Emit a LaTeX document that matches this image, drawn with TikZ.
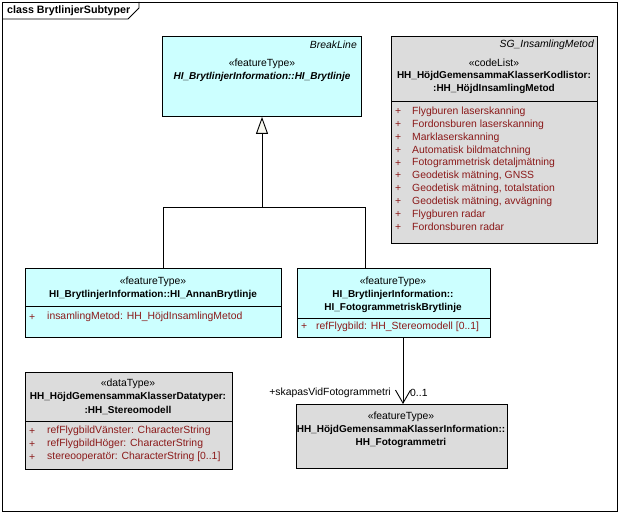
\documentclass[tikz,border=0pt]{standalone}
\usepackage{fontspec}
\setmainfont{Liberation Sans}
\usetikzlibrary{arrows.meta}
\definecolor{cyanfill}{HTML}{CCFFFF}
\definecolor{grayfill}{HTML}{DCDCDC}
\definecolor{attrred}{HTML}{8B1A1A}
\definecolor{tipfill}{HTML}{F8F8F0}
\tikzset{
  umlbox/.style={draw=black, line width=0.9pt, rectangle, inner sep=0pt, anchor=north west},
  cyanbox/.style={umlbox, fill=cyanfill},
  graybox/.style={umlbox, fill=grayfill},
  sep/.style={line width=0.9pt},
  txt/.style={inner sep=0pt, font=\fontsize{10.4}{12}\selectfont},
  ster/.style={txt},
  bname/.style={txt, font=\fontsize{10}{12}\selectfont\bfseries},
  attr/.style={txt, text=attrred, anchor=west},
  conn/.style={line width=0.9pt},
}
\begin{document}
\begin{tikzpicture}[x=1pt,y=-1pt]
\useasboundingbox (0,0) rectangle (622,513);
% frame
\draw[line width=0.9pt] (2,2) rectangle (617,511);
\draw[line width=0.9pt] (2,19) -- (128,19) -- (139,8) -- (139,2);
\node[bname, anchor=west, font=\fontsize{10.7}{12}\selectfont\bfseries] (title) at (7,11) {class BrytlinjerSubtyper};

% top cyan box
\node[cyanbox, minimum width=199pt, minimum height=80pt] (top) at (162,36) {};
\node[txt, anchor=east, font=\fontsize{10.4}{12}\selectfont\itshape] (topsup) at (357,45) {BreakLine};
\node[ster] (topst) at (262,64) {«featureType»};
\node[bname, font=\fontsize{10}{12}\selectfont\bfseries\itshape] (topname) at (262,77) {HI\_BrytlinjerInformation::HI\_Brytlinje};

% codelist box
\node[graybox, minimum width=206pt, minimum height=207pt] (code) at (391,36) {};
\node[txt, anchor=east, font=\fontsize{10.4}{12}\selectfont\itshape] (codesup) at (594,45) {SG\_InsamlingMetod};
\node[ster] (codest) at (494,63) {«codeList»};
\node[bname] (coden1) at (494,76) {HH\_HöjdGemensammaKlasserKodlistor:};
\node[bname] (coden2) at (494,89) {:HH\_HöjdInsamlingMetod};
\draw[sep] (code.west |- 0,101) -- (code.east |- 0,101);
\foreach \i/\t in {0/Flygburen laserskanning,1/Fordonsburen laserskanning,2/Marklaserskanning,3/Automatisk bildmatchning,4/Fotogrammetrisk detaljmätning,5/{Geodetisk mätning, GNSS},6/{Geodetisk mätning, totalstation},7/{Geodetisk mätning, avvägning},8/Flygburen radar,9/Fordonsburen radar}{
  \node[attr] (cp\i) at (395,112+12.8*\i) {+};
  \node[attr] (ct\i) at (412,112+12.8*\i) {\t};
}

% left cyan box
\node[cyanbox, minimum width=256pt, minimum height=69pt] (annan) at (25,268) {};
\node[ster] (annst) at (153,282) {«featureType»};
\node[bname] (annname) at (153,295) {HI\_BrytlinjerInformation::HI\_AnnanBrytlinje};
\draw[sep] (annan.west |- 0,306) -- (annan.east |- 0,306);
\node[attr] (ap) at (29,317) {+};
\node[attr] (at) at (47,317) {insamlingMetod: HH\_HöjdInsamlingMetod};

% right cyan box
\node[cyanbox, minimum width=193pt, minimum height=69pt] (foto) at (297,268) {};
\node[ster] (fost) at (393,282) {«featureType»};
\node[bname] (foname1) at (393,295) {HI\_BrytlinjerInformation::};
\node[bname] (foname2) at (393,308) {HI\_FotogrammetriskBrytlinje};
\draw[sep] (foto.west |- 0,318) -- (foto.east |- 0,318);
\node[attr] (fp) at (301,327) {+};
\node[attr] (ft) at (316,327) {refFlygbild: HH\_Stereomodell [0..1]};

% datatype box
\node[graybox, minimum width=207pt, minimum height=97pt] (data) at (25,372) {};
\node[ster] (dst) at (128,384) {«dataType»};
\node[bname] (dn1) at (128,397) {HH\_HöjdGemensammaKlasserDatatyper:};
\node[bname] (dn2) at (128,410) {:HH\_Stereomodell};
\draw[sep] (data.west |- 0,421) -- (data.east |- 0,421);
\node[attr] (dp0) at (29,431) {+};
\node[attr] (dt0) at (47,431) {refFlygbildVänster: CharacterString};
\node[attr] (dp1) at (29,444) {+};
\node[attr] (dt1) at (47,444) {refFlygbildHöger: CharacterString};
\node[attr] (dp2) at (29,457) {+};
\node[attr] (dt2) at (47,457) {stereooperatör: CharacterString [0..1]};

% fotogrammetri box
\node[graybox, minimum width=211pt, minimum height=64pt] (fg) at (296,404) {};
\node[ster] (fgst) at (401,417) {«featureType»};
\node[bname] (fgn1) at (401,430) {HH\_HöjdGemensammaKlasserInformation::};
\node[bname] (fgn2) at (401,443) {HH\_Fotogrammetri};

% generalization
\coordinate (gL) at (163,207);
\coordinate (gR) at (365,207);
\coordinate (gM) at (262,207);
\draw[conn] (gL |- annan.north) -- (gL) -- (gR) -- (gR |- foto.north);
\draw[conn, -{Triangle[length=17pt,width=12pt,fill=tipfill]}] (gM) -- (gM |- top.south);

% association
\coordinate (aX) at (403,0);
\draw[conn, -{Straight Barb[length=13pt,width=15pt]}] (aX |- foto.south) -- (aX |- fg.north);
\node[txt, anchor=east] (role) at (391,393) {+skapasVidFotogrammetri};
\node[txt, anchor=west] (mult) at (410,393) {0..1};
\end{tikzpicture}
\end{document}
